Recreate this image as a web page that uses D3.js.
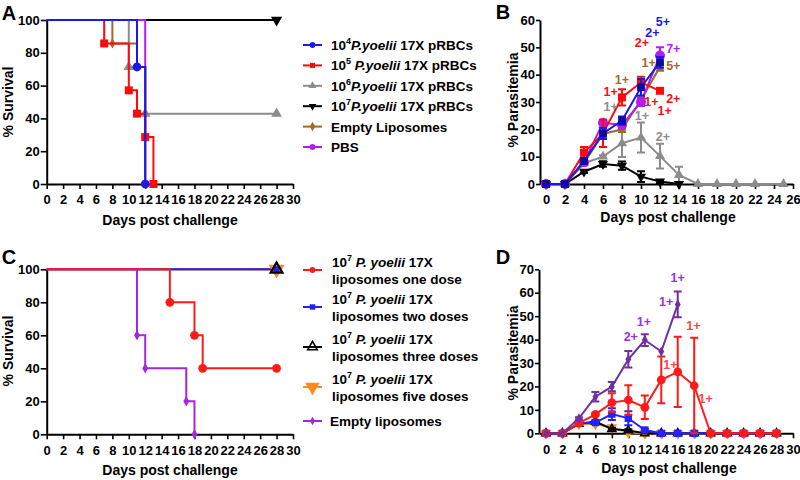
<!DOCTYPE html>
<html><head><meta charset="utf-8">
<script src="https://cdn.jsdelivr.net/npm/d3@7"></script>
<style>
body{margin:0;background:#fff}
svg{display:block}
text{font-family:Arial,"Liberation Sans",sans-serif;font-weight:bold}
</style>
</head><body>
<svg id="c" width="800" height="480"></svg>
<script>
// ---------- Panel A: survival ----------
const daysA_e4 = [0, 11, 12],             survA_e4 = [100, 71.4, 0];
const daysA_e5 = [0, 7, 10, 11, 12, 13],  survA_e5 = [100, 85.7, 57.1, 42.9, 28.6, 0];
const daysA_e6 = [0, 10, 12, 28],         survA_e6 = [100, 71.4, 42.9, 42.9];
const daysA_e7 = [0, 28],                 survA_e7 = [100, 100];
const daysA_emp = [0, 8, 11, 12],         survA_emp = [100, 85.7, 71.4, 0];
const daysA_pbs = [0, 12],                survA_pbs = [100, 0];
const legendA = [["4","P.yoelii"," 17X pRBCs"],["5"," P.yoelii"," 17X pRBCs"],["6","P.yoelii"," 17X pRBCs"],["7","P.yoelii"," 17X pRBCs"],["","","Empty Liposomes"],["","","PBS"]];

// ---------- Panel B: parasitemia ----------
const daysB = [0, 2, 4, 6, 8, 10, 12];
const parB_e4 = [0, 0, 8.4, 18.5, 23.2, 35.4, 44.5],  errB_e4 = [0, 0, 1, 2, 1.5, 3, 2];
const parB_e5 = [0, 0, 11.5, 18.5, 31.7, 37.2, 34.1], errB_e5 = [0, 0, 2, 5, 3, 2, 0];
const daysB_e6 = [0, 2, 4, 6, 8, 10, 12, 14, 16, 18, 20, 22, 25];
const parB_e6 = [0, 0, 7.6, 10, 14.9, 17, 10.2, 3.3, 0, 0, 0, 0, 0], errB_e6 = [0, 0, 0.5, 0.5, 5, 5.5, 4.5, 3, 0, 0, 0, 0, 0];
const daysB_e7 = [0, 2, 4, 6, 8, 10, 12, 14];
const parB_e7 = [0, 0, 4.5, 7.3, 6.7, 2.7, 0.9, 0], errB_e7 = [0, 0, 0.5, 1, 1.5, 2, 0.5, 0];
const parB_emp = [0, 0, 7.6, 18.3, 20, 30.7, 42.9],   errB_emp = [0, 0, 0.5, 1, 1, 1.5, 1.5];
const parB_pbs = [0, 0, 8, 22.4, 21.6, 30, 47],       errB_pbs = [0, 0, 1, 1, 1, 1.5, 3];
const annB_text = ["5+","2+","2+","7+","1+","5+","1+","1+","2+","1+","1+","1+","1+","2+"];
const annB_day  = [12.3, 11.2, 10.1, 13.4, 10.8, 13.4, 8.0, 6.8, 13.4, 6.8, 11.1, 12.5, 10.1, 12.3];
const annB_val  = [59.3, 55.6, 51.6, 49.4, 44.3, 43.2, 38.4, 34.0, 31.1, 28.5, 30.3, 26.9, 24.9, 17.2];
const annB_col  = ["e4","e4","e5","pbs","emp","emp","emp","e5","e5","e6","e5","e5","e6","e6"];

// ---------- Panel C: survival ----------
const daysC_one = [0, 15, 18, 19, 28], survC_one = [100, 80, 60, 40, 40];
const daysC_two = [0, 28], survC_two = [100, 100];
const daysC_three = [0, 28], survC_three = [100, 100];
const daysC_five = [0, 28], survC_five = [100, 100];
const daysC_emp = [0, 11, 12, 17, 18], survC_emp = [100, 60, 40, 20, 0];
const legendC = [["one dose"],["two doses"],["three doses"],["five doses"],["Empty liposomes"]];

// ---------- Panel D: parasitemia ----------
const daysD = [0, 2, 4, 6, 8, 10, 12, 14, 16, 18, 20, 22, 24, 26, 28];
const daysD_emp = [0, 2, 4, 6, 8, 10, 12, 14, 16];
const parD_emp = [0, 0, 6.4, 15.6, 19.9, 31.6, 39.8, 34.9, 55], errD_emp = [0, 0, 0.5, 2, 2, 3.5, 2.5, 0, 5.5];
const parD_one = [0, 0, 4.3, 8.1, 13.1, 14.2, 11.1, 22.8, 26.2, 20.3, 0, 0, 0, 0, 0];
const errD_one = [0, 0, 0.5, 0.5, 4, 6.3, 5, 10, 15, 20.5, 0, 0, 0, 0, 0];
const parD_two = [0, 0, 4.3, 4.6, 8.2, 6.4, 1.4, 0, 0, 0, 0, 0, 0, 0, 0];
const errD_two = [0, 0, 0.5, 0.5, 2.5, 3, 0.5, 0, 0, 0, 0, 0, 0, 0, 0];
const parD_three = [0, 0, 4, 5, 1.8, 1.2, 0, 0, 0, 0, 0, 0, 0, 0, 0];
const errD_three = [0, 0, 0.3, 0.5, 0.5, 0.5, 0, 0, 0, 0, 0, 0, 0, 0, 0];
const parD_five = [0, 0, 4, 4, 2.5, 0.3, 0, 0, 0, 0, 0, 0, 0, 0, 0];
const annD_text = ["1+","1+","1+","2+","1+","1+","1+"];
const annD_day  = [16.0, 14.6, 11.9, 10.3, 17.9, 15.1, 19.4];
const annD_val  = [66.4, 56.1, 47.6, 41.2, 45.9, 29.2, 14.7];
const annD_col  = ["pt","pt","pt","pt","rt","rt","rt"];

const ticksSurvX = d3.range(0, 31, 2), ticksSurvY = [0, 20, 40, 60, 80, 100];

const col = {e4:"#1a1ae8", e5:"#ff0a0a", e6:"#8c8c8c", e7:"#000000", emp:"#a2692e", pbs:"#b01ef0",
  one:"#ff1a1a", two:"#2323ff", three:"#000000", five:"#ff8a1c", cemp:"#a526e0", demp:"#7030a0",
  pt:"#9b2ff5", rt:"#ff4545", e4m:"#0a0aa8"};

const svg = d3.select("#c");

function axes(g, x, y, xt, yt, ytick) {
  const xa = d3.axisBottom(x).tickValues(xt).tickSize(5).tickSizeOuter(0).tickPadding(6);
  const ya = d3.axisLeft(y).tickValues(yt).tickSize(ytick || 6).tickSizeOuter(0).tickPadding(1);
  const gx = g.append("g").attr("transform", `translate(0,${y.range()[0]})`).call(xa);
  const gy = g.append("g").attr("transform", `translate(${x.range()[0]},0)`).call(ya);
  [gx, gy].forEach(a => {
    a.select(".domain").attr("stroke", "#000").attr("stroke-width", 2);
    a.selectAll(".tick line").attr("stroke", "#000").attr("stroke-width", 1.6);
    a.selectAll(".tick text").attr("font-size", 13).attr("font-weight", "bold").attr("fill", "#000")
      .attr("font-family", "Arial, 'Liberation Sans', sans-serif");
  });
}

function sym(type, size) {
  const m = {circle: d3.symbolCircle, square: d3.symbolSquare, triangle: d3.symbolTriangle,
    triDown: d3.symbolTriangle, diamond: d3.symbolDiamond, triOpen: d3.symbolTriangle};
  return d3.symbol(m[type], size)();
}
function marker(g, type, cx, cy, size, color, strokeW) {
  const p = g.append("path").attr("d", sym(type, size))
    .attr("transform", `translate(${cx},${cy})` + (type === "triDown" ? " rotate(180)" : ""));
  if (type === "triOpen") p.attr("fill", "none").attr("stroke", color).attr("stroke-width", strokeW || 2);
  else p.attr("fill", color);
}

function stepLine(g, x, y, days, vals, color) {
  let d = `M${x(days[0])},${y(vals[0])}`;
  for (let i = 1; i < days.length; i++) d += `H${x(days[i])}V${y(vals[i])}`;
  g.append("path").attr("d", d).attr("fill", "none").attr("stroke", color).attr("stroke-width", 2);
}
function stepMarks(g, x, y, days, vals, color, type, size, sw) {
  days.forEach((t, i) => { if (i > 0) marker(g, type, x(t), y(vals[i]), size, color, sw); });
}
function stepSeries(g, x, y, days, vals, color, type, size) {
  stepLine(g, x, y, days, vals, color);
  stepMarks(g, x, y, days, vals, color, type, size);
}

function lineSeries(g, x, y, days, vals, errs, color, type, size, opts = {}) {
  const ln = d3.line().x((d, i) => x(days[i])).y(d => y(d));
  g.append("path").attr("d", ln(vals)).attr("fill", "none").attr("stroke", color).attr("stroke-width", opts.lw || 2);
  if (errs) days.forEach((t, i) => {
    if (!errs[i]) return;
    const cx = x(t), lo = y(Math.max(0, vals[i] - errs[i])), hi = y(vals[i] + errs[i]);
    g.append("path").attr("d", `M${cx},${lo}V${hi}M${cx - 4},${hi}H${cx + 4}M${cx - 4},${lo}H${cx + 4}`)
      .attr("stroke", color).attr("stroke-width", 2).attr("fill", "none");
  });
  days.forEach((t, i) => marker(g, type, x(t), y(vals[i]), size, opts.mcol || color, opts.sw));
}

function label(g, txt, x, y, size, rot) {
  const t = g.append("text").text(txt).attr("font-size", size).attr("text-anchor", "middle").attr("fill", "#000");
  if (rot) t.attr("transform", `translate(${x},${y}) rotate(-90)`); else t.attr("x", x).attr("y", y);
  return t;
}

// ================= Panel A =================
{
  const g = svg.append("g");
  const x = d3.scaleLinear([0, 30], [46.7, 293]);
  const y = d3.scaleLinear([0, 100], [184, 20]);
  axes(g, x, y, ticksSurvX, ticksSurvY);
  stepSeries(g, x, y, daysA_e7, survA_e7, col.e7, "triDown", 55);
  stepSeries(g, x, y, daysA_e6, survA_e6, col.e6, "triangle", 50);
  stepSeries(g, x, y, daysA_emp, survA_emp, col.emp, "diamond", 30);
  stepSeries(g, x, y, daysA_pbs, survA_pbs, col.pbs, "circle", 50);
  stepSeries(g, x, y, daysA_e5, survA_e5, col.e5, "square", 64);
  stepSeries(g, x, y, daysA_e4, survA_e4, col.e4, "circle", 60);
  label(g, "A", 9, 20, 20);
  label(g, "% Survival", 13, 102, 14, true);
  label(g, "Days post challenge", 170, 225, 14);

  const lg = svg.append("g");
  const keys = ["e4", "e5", "e6", "e7", "emp", "pbs"];
  const types = ["circle", "square", "triangle", "triDown", "diamond", "circle"];
  const ly = d3.scaleLinear([0, 5], [45, 147]);
  legendA.forEach((L, i) => {
    const yy = ly(i);
    lg.append("line").attr("x1", 303).attr("x2", 322).attr("y1", yy).attr("y2", yy).attr("stroke", col[keys[i]]).attr("stroke-width", 2);
    marker(lg, types[i], 312.5, yy, 26, col[keys[i]]);
    const t = lg.append("text").attr("x", 331).attr("y", yy + 5).attr("font-size", 13.5).attr("fill", "#000");
    if (L[0]) {
      t.append("tspan").text("10");
      t.append("tspan").text(L[0]).attr("font-size", 9).attr("dy", -6);
      t.append("tspan").text(L[1]).attr("font-style", "italic").attr("dy", 6);
    }
    t.append("tspan").text(L[2]);
  });
}

// ================= Panel B =================
{
  const g = svg.append("g");
  const x = d3.scaleLinear([-0.63, 26], [540, 793]);
  const y = d3.scaleLinear([0, 60], [184, 20]);
  axes(g, x, y, d3.range(0, 27, 2), d3.range(0, 61, 10), 4);
  lineSeries(g, x, y, daysB_e6, parB_e6, errB_e6, col.e6, "triangle", 45);
  lineSeries(g, x, y, daysB_e7, parB_e7, errB_e7, col.e7, "triDown", 45);
  lineSeries(g, x, y, daysB, parB_emp, errB_emp, col.emp, "square", 45);
  lineSeries(g, x, y, daysB, parB_pbs, errB_pbs, col.pbs, "circle", 80);
  lineSeries(g, x, y, daysB, parB_e5, errB_e5, col.e5, "square", 64);
  lineSeries(g, x, y, daysB, parB_e4, errB_e4, col.e4, "square", 60, {mcol: col.e4m});
  annB_text.forEach((s, i) => label(g, s, x(annB_day[i]), y(annB_val[i]) + 4.5, 12.5).attr("fill", col[annB_col[i]]));
  label(g, "B", 503, 19, 20);
  label(g, "% Parasitemia", 518, 100, 14, true);
  label(g, "Days post challenge", 668, 222, 14);
}

// ================= Panel C =================
{
  const g = svg.append("g");
  const x = d3.scaleLinear([0, 30], [46.7, 293]);
  const y = d3.scaleLinear([0, 100], [434.3, 269.3]);
  axes(g, x, y, ticksSurvX, ticksSurvY);
  stepLine(g, x, y, daysC_three, survC_three, col.three);
  stepLine(g, x, y, daysC_five, survC_five, col.five);
  stepLine(g, x, y, daysC_two, survC_two, col.two);
  stepSeries(g, x, y, daysC_emp, survC_emp, col.cemp, "diamond", 30);
  stepSeries(g, x, y, daysC_one, survC_one, col.one, "circle", 60);
  stepMarks(g, x, y, daysC_five, survC_five, col.five, "triDown", 110);
  stepMarks(g, x, y, daysC_two, survC_two, col.two, "square", 36);
  stepMarks(g, x, y, daysC_three, survC_three, col.three, "triOpen", 60, 2.2);
  label(g, "C", 9, 264, 20);
  label(g, "% Survival", 13, 351, 14, true);
  label(g, "Days post challenge", 170, 475, 14);

  const lg = svg.append("g");
  const keys = ["one", "two", "three", "five", "cemp"];
  const types = ["circle", "square", "triOpen", "triDown", "diamond"];
  const msz = [26, 30, 40, 90, 22];
  const ly = [270, 307, 347, 387, 421];
  legendC.forEach((L, i) => {
    const yy = ly[i];
    lg.append("line").attr("x1", 303).attr("x2", 322).attr("y1", yy).attr("y2", yy).attr("stroke", col[keys[i]]).attr("stroke-width", 2);
    marker(lg, types[i], 312.5, yy, msz[i], col[keys[i]], 1.6);
    if (i < 4) {
      const t = lg.append("text").attr("x", 332).attr("y", yy - 3).attr("font-size", 13.5).attr("fill", "#000");
      t.append("tspan").text("10");
      t.append("tspan").text("7").attr("font-size", 9).attr("dy", -6);
      t.append("tspan").text(" P. yoelii").attr("font-style", "italic").attr("dy", 6);
      t.append("tspan").text(" 17X");
      lg.append("text").attr("x", 332).attr("y", yy + 14).attr("font-size", 13.5).attr("fill", "#000").text("liposomes " + L[0]);
    } else {
      lg.append("text").attr("x", 330).attr("y", yy + 5).attr("font-size", 13.5).attr("fill", "#000").text(L[0]);
    }
  });
}

// ================= Panel D =================
{
  const g = svg.append("g");
  const x = d3.scaleLinear([-0.85, 30], [539, 793]);
  const y = d3.scaleLinear([0, 70], [433.3, 269.3]);
  axes(g, x, y, d3.range(0, 31, 2), d3.range(0, 71, 10), 4);
  lineSeries(g, x, y, daysD, parD_five, null, col.five, "triDown", 50);
  lineSeries(g, x, y, daysD, parD_three, errD_three, col.three, "triOpen", 28, {sw: 1.6});
  lineSeries(g, x, y, daysD, parD_two, errD_two, col.two, "square", 55);
  lineSeries(g, x, y, daysD, parD_one, errD_one, col.one, "circle", 60);
  lineSeries(g, x, y, daysD_emp, parD_emp, errD_emp, col.demp, "diamond", 30);
  annD_text.forEach((s, i) => label(g, s, x(annD_day[i]), y(annD_val[i]) + 4.5, 12.5).attr("fill", col[annD_col[i]]));
  label(g, "D", 503, 264, 20);
  label(g, "% Parasitemia", 518, 353, 14, true);
  label(g, "Days post challenge", 669, 473, 14);
}
</script>
</body></html>
